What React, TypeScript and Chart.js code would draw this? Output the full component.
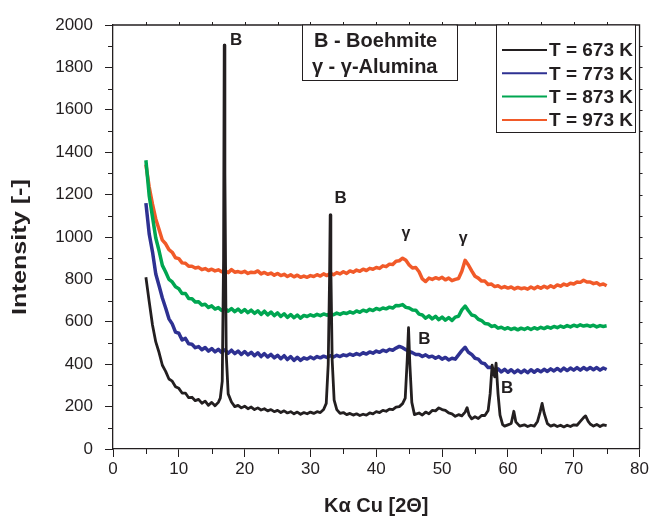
import React, { useEffect, useRef } from "react";
import { Chart, registerables } from "chart.js";

Chart.register(...registerables);

// ---------- data ----------
const seriesNames = ["T = 673 K", "T = 773 K", "T = 873 K", "T = 973 K"];
const seriesColors = ["#231f20", "#2e3192", "#00a651", "#f15a29"];

const xCommon = [
  5, 5.5, 6, 6.5, 7, 7.5, 8, 8.5, 9, 9.5, 10, 10.5, 11, 11.5, 12, 12.5, 13, 13.5, 14, 14.5,
  15, 15.5, 16, 16.5, 17, 17.5, 18, 18.5, 19, 19.5, 20, 20.5, 21, 21.5, 22, 22.5, 23, 23.5, 24, 24.5,
  25, 25.5, 26, 26.5, 27, 27.5, 28, 28.5, 29, 29.5, 30, 30.5, 31, 31.5, 32, 32.5, 33, 33.5, 34, 34.5,
  35, 35.5, 36, 36.5, 37, 37.5, 38, 38.5, 39, 39.5, 40, 40.5, 41, 41.5, 42, 42.5, 43, 43.5, 44, 44.5,
  45, 45.5, 46, 46.5, 47, 47.5, 48, 48.5, 49, 49.5, 50, 50.5, 51, 51.5, 52, 52.5, 53, 53.5, 54, 54.5,
  55, 55.5, 56, 56.5, 57, 57.5, 58, 58.5, 59, 59.5, 60, 60.5, 61, 61.5, 62, 62.5, 63, 63.5, 64, 64.5,
  65, 65.5, 66, 66.5, 67, 67.5, 68, 68.5, 69, 69.5, 70, 70.5, 71, 71.5, 72, 72.5, 73, 73.5, 74, 74.5, 75,
];

const y973 = [
  1342, 1236, 1155, 1085, 1035, 985, 968, 940, 928, 902, 898, 878, 876, 862, 862, 854, 857, 846, 851, 842,
  848, 840, 845, 836, 842, 832, 846, 834, 837, 832, 838, 828, 834, 832, 840, 826, 833, 824, 830, 820,
  828, 818, 824, 814, 822, 812, 820, 810, 816, 810, 818, 814, 822, 816, 826, 818, 828, 822, 832, 826,
  836, 828, 840, 834, 844, 838, 848, 842, 852, 848, 856, 852, 864, 860, 872, 870, 886, 888, 900, 890,
  868, 854, 856, 836, 802, 790, 806, 800, 808, 802, 810, 798, 806, 794, 800, 804, 838, 890, 868, 840,
  815, 806, 792, 792, 776, 778, 766, 770, 760, 766, 759, 764, 755, 762, 756, 760, 754, 764, 756, 766,
  758, 768, 760, 770, 762, 774, 768, 778, 772, 782, 778, 788, 786, 796, 788, 788, 780, 784, 774, 778, 770,
];

const y873 = [
  1362, 1195, 1095, 995, 935, 866, 835, 800, 788, 765, 756, 733, 734, 710, 709, 693, 695, 679, 683, 668,
  675, 660, 667, 654, 664, 650, 662, 648, 660, 645, 658, 643, 655, 640, 652, 635, 650, 633, 646, 629,
  642, 625, 638, 621, 634, 619, 632, 617, 630, 625, 633, 627, 635, 629, 637, 631, 639, 633, 641, 635,
  643, 639, 647, 641, 651, 645, 655, 649, 659, 653, 663, 657, 665, 661, 669, 665, 677, 676, 681, 668,
  665, 656, 655, 636, 632, 617, 628, 614, 626, 610, 622, 608, 620, 606, 622, 626, 656, 674, 652, 632,
  628, 612, 606, 592, 590, 578, 582, 570, 574, 566, 572, 564, 570, 562, 570, 564, 572, 564, 572, 566,
  574, 568, 576, 570, 578, 572, 580, 574, 582, 576, 584, 578, 586, 580, 584, 578, 584, 576, 582, 578, 581,
];

const y773 = [
  1160, 1015, 930, 825, 770, 712, 665, 614, 590, 551, 546, 514, 522, 496, 494, 478, 483, 468, 479, 462,
  474, 458, 470, 456, 468, 452, 466, 450, 462, 446, 460, 444, 456, 440, 454, 436, 450, 434, 446, 430,
  442, 426, 440, 422, 436, 418, 432, 418, 430, 424, 434, 426, 436, 430, 438, 432, 440, 434, 442, 436,
  444, 440, 448, 442, 450, 444, 454, 448, 458, 452, 462, 456, 466, 460, 470, 466, 476, 484, 478, 468,
  460, 454, 446, 446, 436, 444, 434, 438, 428, 436, 424, 432, 420, 428, 424, 444, 464, 480, 456, 446,
  428, 424, 406, 402, 384, 386, 370, 378, 364, 376, 362, 374, 360, 372, 360, 372, 360, 374, 362, 374,
  364, 376, 366, 378, 368, 380, 368, 382, 370, 382, 372, 384, 372, 384, 374, 384, 374, 384, 372, 382, 375,
];

const x673 = [
  5, 5.5, 6, 6.5, 7, 7.5, 8, 8.5, 9, 9.5, 10, 10.5, 11, 11.5, 12, 12.5, 13, 13.5, 14, 14.5,
  15, 15.5, 16, 16.3, 16.6, 16.8, 16.9, 17.0, 17.2, 17.5, 18, 18.5, 19, 19.5, 20, 20.5, 21, 21.5, 22, 22.5,
  23, 23.5, 24, 24.5, 25, 25.5, 26, 26.5, 27, 27.5, 28, 28.5, 29, 29.5, 30, 30.5, 31, 31.5, 32, 32.4,
  32.7, 32.9, 33.0, 33.1, 33.3, 33.6, 34, 34.5, 35, 35.5, 36, 36.5, 37, 37.5, 38, 38.5, 39, 39.5, 40, 40.5,
  41, 41.5, 42, 42.5, 43, 43.5, 44, 44.4, 44.7, 44.9, 45.1, 45.4, 45.8, 46.5, 47, 47.5, 48, 48.5, 49, 49.5,
  50, 50.5, 51, 51.5, 52, 52.5, 53, 53.5, 53.8, 54.1, 54.5, 55, 55.5, 56, 56.5, 57, 57.3, 57.6, 57.8, 58.0,
  58.2, 58.5, 58.8, 59.2, 59.5, 60, 60.5, 60.9, 61.2, 61.8, 62.5, 63, 63.5, 64, 64.5, 64.9, 65.2, 65.5, 66, 66.5,
  67, 67.5, 68, 68.5, 69, 69.5, 70, 70.5, 71, 71.5, 71.8, 72.2, 72.5, 73, 73.5, 74, 74.5, 75,
];

const y673 = [
  810, 695, 585, 505, 455, 395, 366, 330, 320, 294, 286, 264, 264, 242, 244, 228, 234, 216, 226, 206,
  220, 204, 220, 240, 320, 900, 1905, 1300, 450, 260, 222, 200, 206, 194, 202, 190, 198, 186, 194, 184,
  190, 180, 186, 176, 182, 172, 180, 170, 176, 166, 174, 164, 172, 166, 174, 168, 176, 172, 186, 215,
  400, 800, 1104, 850, 420, 230, 186, 168, 172, 162, 168, 160, 166, 158, 164, 160, 170, 166, 176, 172,
  182, 178, 188, 186, 198, 200, 214, 240, 420, 572, 400, 220, 162, 170, 160, 174, 166, 182, 180, 194,
  186, 182, 170, 166, 154, 162, 156, 174, 195, 160, 142, 152, 144, 158, 158, 182, 260, 395, 360, 340,
  405, 260, 160, 115, 108, 114, 120, 178, 128, 108, 114, 106, 112, 108, 130, 175, 215, 170, 120, 108,
  114, 106, 112, 104, 112, 106, 114, 112, 130, 148, 156, 130, 118, 108, 116, 106, 114, 110,
];

// axis ranges and ticks
const xMin = 0, xMax = 80, xStep = 10, xMinorStep = 5;
const yMin = 0, yMax = 2000, yStep = 200, yMinorStep = 100;

const xTitle = "Kα Cu [2Θ]";
const yTitle = "Intensity [-]";

// peak annotations: [label, x (2θ), intensity]
const peakLabels: [string, number, number][] = [
  ["B", 18.7, 1926],
  ["B", 34.6, 1184],
  ["γ", 44.5, 1017],
  ["γ", 53.2, 994],
  ["B", 47.3, 517],
  ["B", 59.9, 286],
];

const keyLines = ["B - Boehmite", "γ - γ-Alumina"];

const FONT = "'Liberation Sans', Arial, Helvetica, sans-serif";

const decorPlugin = {
  id: "decor",
  afterDraw(chart: any) {
    const { ctx, chartArea, scales } = chart;
    const xs = scales.x, ys = scales.y;
    const { left, right, top, bottom } = chartArea;
    ctx.save();
    ctx.strokeStyle = "#231f20";
    ctx.lineWidth = 1.3;
    // frame top & right
    ctx.beginPath();
    ctx.moveTo(left, top);
    ctx.lineTo(right, top);
    ctx.lineTo(right, bottom);
    ctx.stroke();
    // minor ticks
    ctx.lineWidth = 1;
    ctx.beginPath();
    for (let v = yMin + yMinorStep; v < yMax; v += yStep) {
      const py = Math.round(ys.getPixelForValue(v)) + 0.5;
      ctx.moveTo(left - 5, py);
      ctx.lineTo(left, py);
    }
    for (let v = xMin + xMinorStep; v < xMax; v += xStep) {
      const px = Math.round(xs.getPixelForValue(v)) + 0.5;
      ctx.moveTo(px, bottom);
      ctx.lineTo(px, bottom + 5);
    }
    for (let v = xMin + xMinorStep; v < xMax; v += xMinorStep) {
      const px = Math.round(xs.getPixelForValue(v)) + 0.5;
      ctx.moveTo(px, top);
      ctx.lineTo(px, top - 3);
    }
    for (let v = yMin + yMinorStep; v < yMax; v += yMinorStep) {
      const py = Math.round(ys.getPixelForValue(v)) + 0.5;
      ctx.moveTo(right, py);
      ctx.lineTo(right + 3, py);
    }
    ctx.stroke();

    // y-axis title (slightly widened bold text, as in the original figure)
    ctx.save();
    ctx.translate(20, (top + bottom) / 2 + 10);
    ctx.rotate(-Math.PI / 2);
    ctx.scale(1.2, 1);
    ctx.fillStyle = "#231f20";
    ctx.font = `bold 21px ${FONT}`;
    ctx.textAlign = "center";
    ctx.textBaseline = "middle";
    ctx.fillText(yTitle, 0, 0);
    ctx.restore();

    // peak labels
    ctx.fillStyle = "#231f20";
    ctx.textAlign = "center";
    ctx.textBaseline = "middle";
    peakLabels.forEach(([t, x, y]) => {
      ctx.font = t === "B" ? `bold 17px ${FONT}` : `bold 16px ${FONT}`;
      ctx.fillText(t, xs.getPixelForValue(x), ys.getPixelForValue(y));
    });

    // key box
    const kx0 = xs.getPixelForValue(28.7);
    const kx1 = xs.getPixelForValue(52.2);
    const ky1 = ys.getPixelForValue(1740);
    ctx.fillStyle = "#ffffff";
    ctx.fillRect(kx0, top, kx1 - kx0, ky1 - top);
    ctx.strokeStyle = "#231f20";
    ctx.lineWidth = 1;
    ctx.strokeRect(Math.round(kx0) + 0.5, top, Math.round(kx1 - kx0), Math.round(ky1 - top) + 0.5);
    ctx.fillStyle = "#231f20";
    ctx.textAlign = "left";
    ctx.font = `bold 20px ${FONT}`;
    ctx.fillText(keyLines[0], kx0 + 12, top + 16);
    ctx.fillText(keyLines[1], kx0 + 10, top + 42);

    // legend box
    const lx0 = 496, lx1 = 635, ly1 = 132;
    ctx.fillStyle = "#ffffff";
    ctx.fillRect(lx0, top, lx1 - lx0, ly1 - top);
    ctx.strokeStyle = "#231f20";
    ctx.strokeRect(lx0 + 0.5, top, lx1 - lx0, ly1 - top + 0.5);
    ctx.font = `bold 19px ${FONT}`;
    seriesNames.forEach((name, i) => {
      const yy = top + 25 + i * 23.3;
      ctx.strokeStyle = seriesColors[i];
      ctx.lineWidth = 2;
      ctx.beginPath();
      ctx.moveTo(lx0 + 6, yy);
      ctx.lineTo(lx0 + 51, yy);
      ctx.stroke();
      ctx.fillStyle = "#231f20";
      ctx.fillText(name, lx0 + 53, yy + 1);
    });
    ctx.restore();
  },
};

export default function App() {
  const ref = useRef<HTMLCanvasElement | null>(null);
  useEffect(() => {
    if (!ref.current) return;
    const sets = [
      [x673, y673],
      [xCommon, y773],
      [xCommon, y873],
      [xCommon, y973],
    ];
    const chart = new Chart(ref.current, {
      type: "line",
      data: {
        datasets: sets.map(([xx, yy], i) => ({
          label: seriesNames[i],
          data: xx.map((x, j) => ({ x, y: yy[j] })),
          borderColor: seriesColors[i],
          backgroundColor: seriesColors[i],
          borderWidth: i === 0 ? 2.8 : 3.5,
          borderJoinStyle: "round",
          pointRadius: 0,
          tension: 0,
          fill: false,
        })),
      },
      options: {
        responsive: false,
        animation: false,
        events: [],
        layout: { padding: { left: 0, top: 25, right: 11, bottom: 0 } },
        plugins: { legend: { display: false }, tooltip: { enabled: false } },
        scales: {
          x: {
            type: "linear",
            min: xMin,
            max: xMax,
            afterFit: (s: any) => { s.height = 69; },
            ticks: { stepSize: xStep, color: "#231f20", font: { size: 17, family: FONT }, padding: 2, maxRotation: 0, callback: (v: any) => String(v) },
            grid: { drawOnChartArea: false, tickLength: 8, color: "#231f20", tickColor: "#231f20" },
            border: { display: true, color: "#231f20", width: 1.3 },
            title: { display: true, text: xTitle, color: "#231f20", font: { size: 20, weight: "bold", family: FONT }, padding: { top: 0, bottom: 0 } },
          },
          y: {
            type: "linear",
            min: yMin,
            max: yMax,
            afterFit: (s: any) => { s.width = 113; },
            ticks: { stepSize: yStep, color: "#231f20", font: { size: 17, family: FONT }, padding: 12, callback: (v: any) => String(v) },
            grid: { drawOnChartArea: false, tickLength: 8, color: "#231f20", tickColor: "#231f20" },
            border: { display: true, color: "#231f20", width: 1.3 },
            title: { display: false },
          },
        },
      },
      plugins: [decorPlugin],
    });
    return () => chart.destroy();
  }, []);
  return (
    <div style={{ position: "fixed", left: 0, top: 0, width: 651, height: 518, background: "#fff" }}>
      <canvas ref={ref} width={651} height={518} />
    </div>
  );
}
